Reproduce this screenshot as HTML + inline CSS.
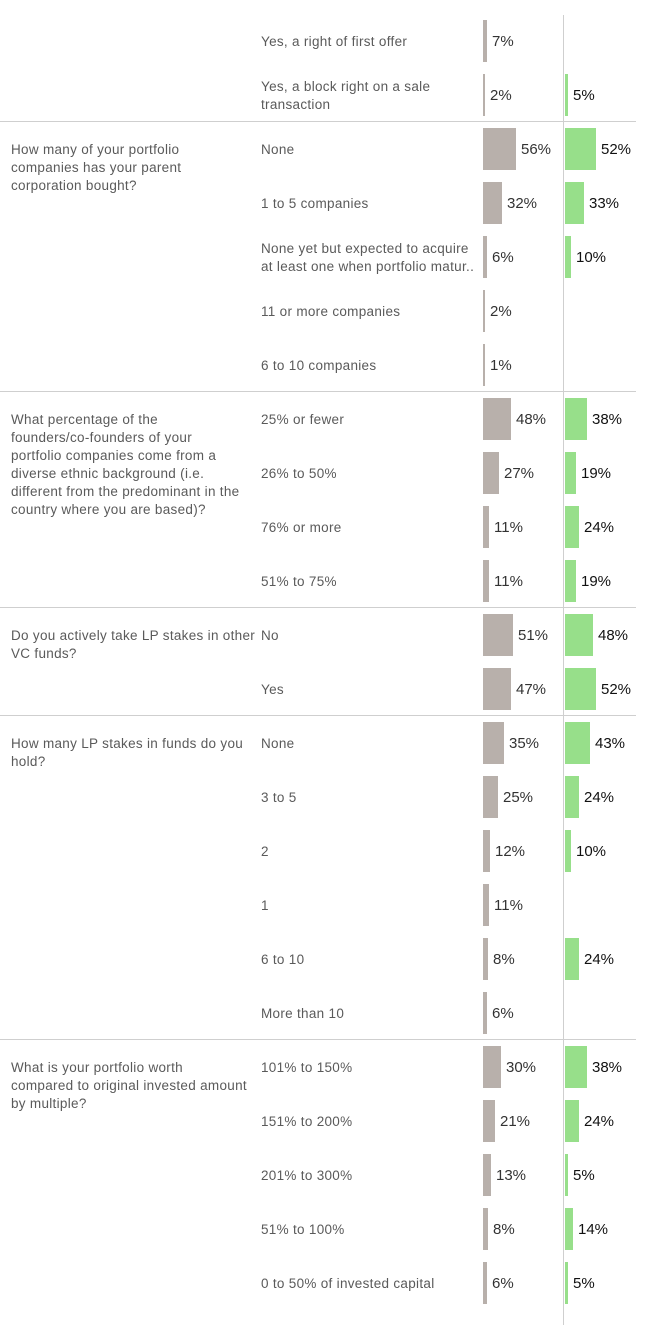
<!DOCTYPE html><html><head><meta charset="utf-8"><style>
body{margin:0;width:658px;height:1325px;background:#fff;position:relative;overflow:hidden;font-family:"Liberation Sans",sans-serif}
.q,.l{position:absolute;color:#5a5a5a;font-size:13.5px;letter-spacing:0.3px;line-height:18px;white-space:nowrap}
.q{left:11px}.l{left:261px}
.b{position:absolute;height:42px}
.g{background:#b8b0ab;left:483px}.gr{background:#97df8a;left:565px}
.v{position:absolute;font-size:15px;color:#333;line-height:18px}
.h{position:absolute;left:0;width:636px;height:1px;background:#cfcfcf}
</style></head><body>
<div style="position:absolute;left:563px;top:15px;width:1px;height:1310px;background:#cfcfcf"></div>
<div id="c"></div>
<script>
const groups=[
 [null,[["Yes, a right of first offer",7,null],["Yes, a block right on a sale<br>transaction",2,5]]],
 ["How many of your portfolio<br>companies has your parent<br>corporation bought?",[["None",56,52],["1 to 5 companies",32,33],["None yet but expected to acquire<br>at least one when portfolio matur..",6,10],["11 or more companies",2,null],["6 to 10 companies",1,null]]],
 ["What percentage of the<br>founders/co-founders of your<br>portfolio companies come from a<br>diverse ethnic background (i.e.<br>different from the predominant in the<br>country where you are based)?",[["25% or fewer",48,38],["26% to 50%",27,19],["76% or more",11,24],["51% to 75%",11,19]]],
 ["Do you actively take LP stakes in other<br>VC funds?",[["No",51,48],["Yes",47,52]]],
 ["How many LP stakes in funds do you<br>hold?",[["None",35,43],["3 to 5",25,24],["2",12,10],["1",11,null],["6 to 10",8,24],["More than 10",6,null]]],
 ["What is your portfolio worth<br>compared to original invested amount<br>by multiple?",[["101% to 150%",30,38],["151% to 200%",21,24],["201% to 300%",13,5],["51% to 100%",8,14],["0 to 50% of invested capital",6,5]]]
];
let h='',i=0;const s=0.59;
groups.forEach((g,gi)=>{
 const c0=41+54*i;
 if(gi>0)h+=`<div class="h" style="top:${c0-28}px"></div>`;
 if(g[0])h+=`<div class="q" style="top:${c0-8}px">${g[0]}</div>`;
 g[1].forEach(r=>{
  const c=41+54*i;const two=r[0].includes('<br>');
  h+=`<div class="l" style="top:${c-(two?17:8)}px">${r[0]}</div>`;
  let w=Math.max(2,Math.round(r[1]*s));
  h+=`<div class="b g" style="top:${c-21}px;width:${w}px"></div><div class="v" style="left:${483+w+5}px;top:${c-8}px">${r[1]}%</div>`;
  if(r[2]!=null){let w2=Math.max(3,Math.round(r[2]*s));
  h+=`<div class="b gr" style="top:${c-21}px;width:${w2}px"></div><div class="v" style="color:#111;left:${565+w2+5}px;top:${c-8}px">${r[2]}%</div>`;}
  i++;
 });
});
document.getElementById('c').innerHTML=h;
</script>
</body></html>
